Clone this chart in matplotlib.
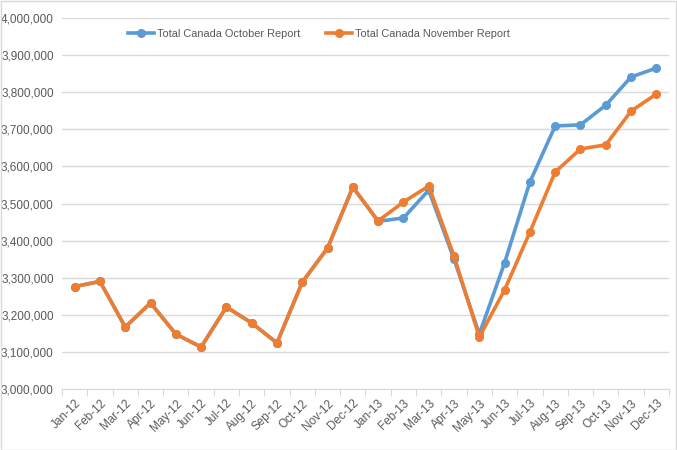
import matplotlib
matplotlib.use("Agg")
import matplotlib.pyplot as plt
from matplotlib.patches import Rectangle
import numpy as np

months = ["Jan-12", "Feb-12", "Mar-12", "Apr-12", "May-12", "Jun-12", "Jul-12", "Aug-12",
          "Sep-12", "Oct-12", "Nov-12", "Dec-12", "Jan-13", "Feb-13", "Mar-13", "Apr-13",
          "May-13", "Jun-13", "Jul-13", "Aug-13", "Sep-13", "Oct-13", "Nov-13", "Dec-13"]

october = [3276000, 3290000, 3167000, 3232000, 3148000, 3113000, 3221000, 3178000,
           3124000, 3288000, 3380000, 3544000, 3452000, 3461000, 3536000, 3350000,
           3148000, 3340000, 3558000, 3709000, 3712000, 3765000, 3841000, 3865000]

november = [3276000, 3290000, 3167000, 3232000, 3148000, 3113000, 3221000, 3178000,
            3124000, 3288000, 3380000, 3544000, 3453000, 3504000, 3547000, 3358000,
            3140000, 3267000, 3423000, 3585000, 3647000, 3658000, 3749000, 3795000]

yticks = list(range(3000000, 4000001, 100000))

plt.rcParams['font.family'] = ['Liberation Sans', 'DejaVu Sans']
fig = plt.figure(figsize=(6.77, 4.5), dpi=100)
ax = fig.add_axes([62/677, 1-389/450, (669-62)/677, (389-18)/450])

x = np.arange(len(months))
blue = "#5B9BD5"
orange = "#ED7D31"
ax.plot(x, october, color=blue, lw=2.6, marker='o', ms=5.5, label="Total Canada October Report", zorder=3)
ax.plot(x, november, color=orange, lw=2.6, marker='o', ms=5.5, label="Total Canada November Report", zorder=4)

ax.set_xlim(-0.5, len(months)-0.5)
ax.set_ylim(3000000, 4000000)
ax.set_yticks(yticks)
ax.set_yticklabels([f"{v:,}" for v in yticks], color="#595959", fontsize=8.5)
ax.yaxis.grid(True, color="#D9D9D9", lw=1)
ax.set_axisbelow(True)
ax.tick_params(axis='y', length=0, pad=6)

ax.set_xticks(np.arange(-0.5, len(months), 1.0), minor=False)
ax.set_xticklabels([])
ax.set_xticks(x, minor=True)
ax.set_xticklabels(months, minor=True, rotation=45, ha='right', rotation_mode='anchor',
                   color="#595959", fontsize=8.5)
ax.tick_params(axis='x', which='major', length=5, color="#D9D9D9", direction='out')
ax.tick_params(axis='x', which='minor', length=0, pad=6)

for s in ['top', 'right', 'left']:
    ax.spines[s].set_visible(False)
ax.spines['bottom'].set_color("#D9D9D9")

leg = ax.legend(loc='center', bbox_to_anchor=(0.423, 0.957), ncol=2, frameon=False,
                fontsize=7.9, handlelength=2.4, handletextpad=0.25, columnspacing=2.3,
                borderpad=0)
for t in leg.get_texts():
    t.set_color("#595959")

fig.patches.append(Rectangle((0.001, 0.001), 0.997, 0.997, transform=fig.transFigure,
                             fill=False, edgecolor="#D9D9D9", lw=1))

fig.savefig("out.png", dpi=100)
